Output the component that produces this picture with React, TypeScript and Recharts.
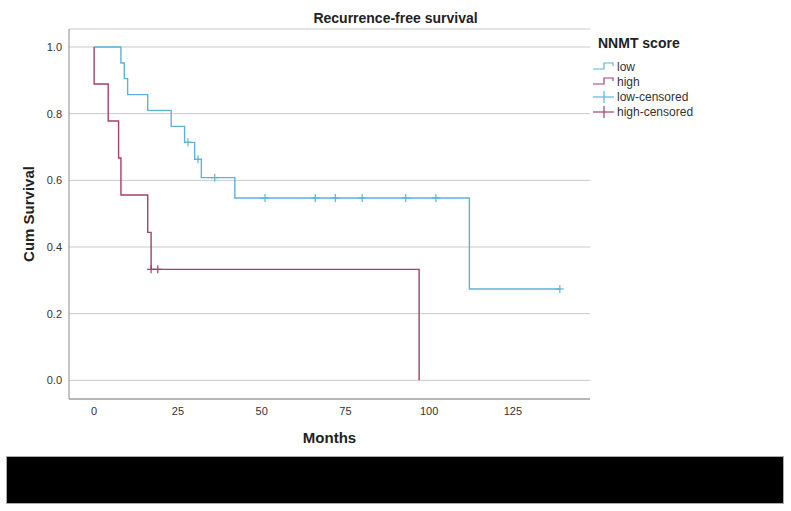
import { type FC } from 'react';
import {
  ComposedChart,
  Line,
  Scatter,
  XAxis,
  YAxis,
  CartesianGrid,
} from 'recharts';

// Kaplan-Meier steps: [month, cumulative survival]
const lowTimes = [0, 8, 9, 10, 16, 23, 27, 30, 32, 42, 112, 139];
const lowSurvival = [1, 0.952, 0.905, 0.857, 0.81, 0.762, 0.714, 0.663, 0.608, 0.547, 0.274, 0.274];
const highTimes = [0, 0, 4.2, 7.3, 8, 16, 17, 97];
const highSurvival = [1, 0.889, 0.778, 0.667, 0.556, 0.444, 0.333, 0];

// censored observations
const lowCensorTimes = [28, 31, 36, 51, 66, 72, 80, 93, 102, 139];
const lowCensorSurvival = [0.714, 0.663, 0.608, 0.547, 0.547, 0.547, 0.547, 0.547, 0.547, 0.274];
const highCensorTimes = [17, 19];
const highCensorSurvival = [0.333, 0.333];

const xTicks = [0, 25, 50, 75, 100, 125];
const yTicks = [0, 0.2, 0.4, 0.6, 0.8, 1.0];

const LOW = '#5eb2d9';
const HIGH = '#a2416a';
const FONT = '"Liberation Sans", Arial, sans-serif';

const zip = (t: number[], s: number[]) => t.map((v, i) => ({ t: v, s: s[i] }));

const lowData = zip(lowTimes, lowSurvival);
const highData = zip(highTimes, highSurvival);
const lowCensored = zip(lowCensorTimes, lowCensorSurvival);
const highCensored = zip(highCensorTimes, highCensorSurvival);

const plus = (color: string) => (p: any) => (
  <g stroke={color} strokeWidth={1.2}>
    <line x1={p.cx - 4} x2={p.cx + 4} y1={p.cy} y2={p.cy} />
    <line x1={p.cx} x2={p.cx} y1={p.cy - 4} y2={p.cy + 4} />
  </g>
);

const legendItems = [
  { label: 'low', color: LOW, kind: 'step' },
  { label: 'high', color: HIGH, kind: 'step' },
  { label: 'low-censored', color: LOW, kind: 'plus' },
  { label: 'high-censored', color: HIGH, kind: 'plus' },
];

const SpssLegend = () => (
  <div style={{ position: 'absolute', left: 592, top: 35, fontFamily: FONT, color: '#222' }}>
    <div style={{ fontWeight: 700, fontSize: 14, marginLeft: 6, marginBottom: 8 }}>NNMT score</div>
    {legendItems.map((it) => (
      <div key={it.label} style={{ display: 'flex', alignItems: 'center', height: 15, fontSize: 12, color: '#333' }}>
        <svg width={24} height={14} style={{ marginRight: 1 }}>
          {it.kind === 'step' ? (
            <path d="M1,9 H12 V3 H21 V6" fill="none" stroke={it.color} strokeWidth={1.2} />
          ) : (
            <g stroke={it.color} strokeWidth={1.2}>
              <line x1={1} x2={22} y1={7} y2={7} />
              <line x1={12} x2={12} y1={1} y2={13} />
            </g>
          )}
        </svg>
        {it.label}
      </div>
    ))}
  </div>
);

const App: FC = () => (
  <div style={{ position: 'absolute', left: 0, top: 0, width: 791, height: 511, background: '#fff', fontFamily: FONT }}>
    <div style={{ position: 'absolute', left: 0, width: 791, top: 10, textAlign: 'center', fontWeight: 700, fontSize: 14, color: '#222' }}>
      Recurrence-free survival
    </div>
    <div
      style={{
        position: 'absolute', left: 28, top: 214, transform: 'translate(-50%, -50%) rotate(-90deg)',
        fontWeight: 700, fontSize: 15, color: '#222', whiteSpace: 'nowrap',
      }}
    >
      Cum Survival
    </div>
    <ComposedChart width={791} height={511} margin={{ top: 29, right: 201, bottom: 82, left: 0 }}>
      <CartesianGrid vertical={false} stroke="#c9c9c9" />
      <XAxis
        type="number"
        dataKey="t"
        domain={[-7.5, 148]}
        ticks={xTicks}
        allowDataOverflow
        height={30}
        tickLine={false}
        tickSize={0}
        tickMargin={8}
        stroke="#8a8a8a"
        tick={{ fill: '#333', fontSize: 11, fontFamily: FONT }}
        label={{ value: 'Months', position: 'insideBottom', offset: -14, fill: '#222', fontSize: 15, fontWeight: 700, fontFamily: FONT }}
      />
      <YAxis
        type="number"
        dataKey="s"
        domain={[-0.056, 1.054]}
        ticks={yTicks}
        allowDataOverflow
        width={69}
        tickLine={false}
        tickSize={0}
        tickMargin={7}
        stroke="#8a8a8a"
        tickFormatter={(v: number) => v.toFixed(1)}
        tick={{ fill: '#333', fontSize: 11, fontFamily: FONT }}
      />
      <Line data={lowData} dataKey="s" type="stepAfter" stroke={LOW} strokeWidth={1.4} dot={false} isAnimationActive={false} />
      <Line data={highData} dataKey="s" type="stepAfter" stroke={HIGH} strokeWidth={1.4} dot={false} isAnimationActive={false} />
      <Scatter data={lowCensored} dataKey="s" shape={plus(LOW)} isAnimationActive={false} />
      <Scatter data={highCensored} dataKey="s" shape={plus(HIGH)} isAnimationActive={false} />
    </ComposedChart>
    <SpssLegend />
    <div style={{ position: 'absolute', left: 6, top: 456, width: 776, height: 46, background: '#000', border: '1px solid #aaa' }} />
  </div>
);

export default App;
